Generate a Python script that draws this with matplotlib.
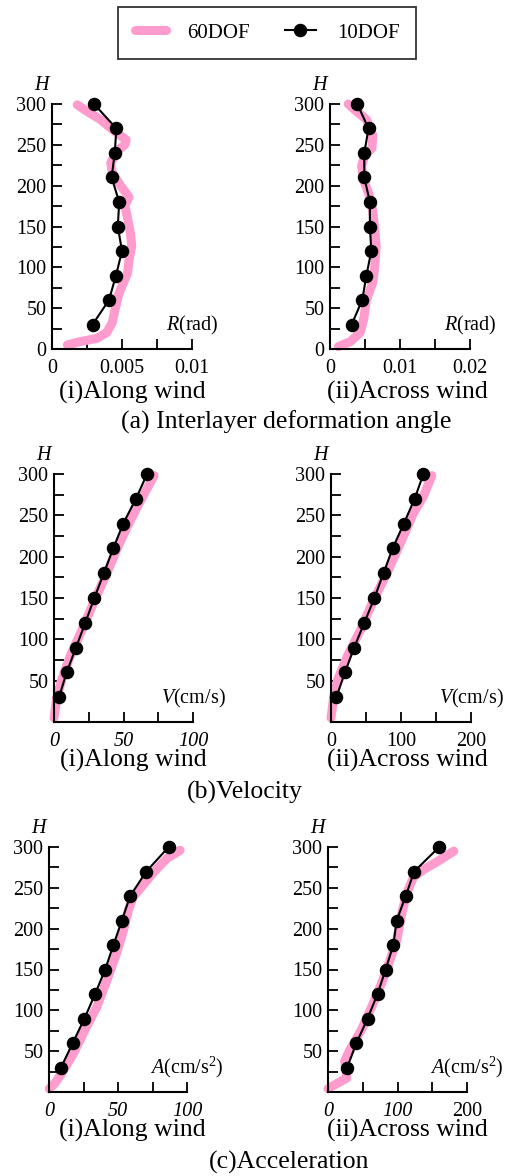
import matplotlib
matplotlib.use('Agg')
import matplotlib.pyplot as plt
from matplotlib.ticker import FixedLocator, NullFormatter
from matplotlib.lines import Line2D

plt.rcParams['font.family'] = ['Liberation Serif', 'DejaVu Serif']
plt.rcParams['mathtext.fontset'] = 'custom'
plt.rcParams['mathtext.rm'] = 'Liberation Serif'
plt.rcParams['mathtext.it'] = 'Liberation Serif:italic'

PINK = '#ff9ccd'

# 10DOF model (floor heights)
h10 = [30, 60, 90, 120, 150, 180, 210, 240, 270, 300]
r_along_10 = [0.0029, 0.00407, 0.00457, 0.0050, 0.0047, 0.0048, 0.00426, 0.00448, 0.0046, 0.0030]
r_across_10 = [0.0031, 0.0046, 0.0052, 0.0059, 0.0057, 0.0057, 0.0049, 0.0049, 0.0055, 0.0039]
v_along_10 = [3.6, 9.1, 15.8, 22.5, 29.0, 35.9, 42.6, 49.8, 58.9, 67.0]
v_across_10 = [7.6, 20.0, 33.0, 47.6, 62.0, 75.0, 88.0, 104.0, 119.5, 132.0]
a_along_10 = [8.7, 17.2, 25.7, 33.4, 40.7, 46.7, 52.8, 58.8, 70.5, 86.7]
a_across_10 = [27.5, 41.0, 56.9, 71.3, 82.9, 94.0, 98.8, 111.8, 124.0, 160.0]

# 60DOF model
h_r_along = [5, 9, 13, 20, 32, 48, 69, 81, 93, 109, 126, 142, 160, 176, 186,
             200, 216, 228, 242, 250, 256, 269, 281, 291, 299]
r_along_60 = [0.0011, 0.0020, 0.0032, 0.0039, 0.0043, 0.0045, 0.0048, 0.0051,
              0.0054, 0.0055, 0.0057, 0.0056, 0.0054, 0.0052, 0.0055, 0.0049,
              0.0043, 0.0042, 0.0046, 0.0052, 0.0053, 0.0043, 0.00345, 0.0025, 0.0018]
h_r_across = [3, 9, 20, 36, 60, 81, 101, 126, 154, 175, 191, 207, 224, 238,
              246, 262, 281, 291, 300]
r_across_60 = [0.0012, 0.0029, 0.0043, 0.0048, 0.0052, 0.0061, 0.0064, 0.0066,
               0.0063, 0.0060, 0.0055, 0.0048, 0.0045, 0.0050, 0.0060, 0.0061,
               0.0052, 0.0038, 0.0026]
h_v_along = [5, 29, 51, 79, 111, 148, 180, 212, 237, 257, 281, 298]
v_along_60 = [0.0, 2.0, 5.5, 11.5, 20.0, 29.4, 38.0, 46.0, 53.0, 59.0, 66.5, 72.0]
h_v_across = [5, 31, 51, 79, 111, 148, 180, 220, 253, 273, 298]
v_across_60 = [0.0, 4.0, 9.5, 23.0, 42.0, 61.0, 80.0, 101.0, 118.0, 132.0, 144.0]
h_a_along = [4, 11, 23, 47, 76, 104, 137, 170, 198, 223, 239, 249, 269, 286, 296]
a_along_60 = [0.2, 4.4, 9.2, 17.7, 26.0, 34.6, 42.0, 49.0, 54.0, 57.6, 61.0,
              66.0, 75.8, 85.5, 95.0]
h_a_across = [4, 10, 17, 24, 38, 51, 76, 104, 133, 161, 186, 218, 243, 263,
              272, 284, 295]
a_across_60 = [0.0, 12.0, 27.0, 26.0, 24.0, 31.0, 48.0, 62.7, 77.0, 89.0, 99.0,
               106.0, 113.0, 123.0, 137.0, 161.0, 181.0]

W, H = 507, 1176
fig = plt.figure(figsize=(W / 100, H / 100), dpi=100)


def make_ax(left, right, top, bottom):
    return fig.add_axes([left / W, 1 - bottom / H, (right - left) / W, (bottom - top) / H])


def panel(ax, x60, h60, x10, xmax, xmaj, xmin, xlabels, xname, y_zero, italic):
    ax.plot(x60, h60, color=PINK, lw=6.5, solid_capstyle='round',
            solid_joinstyle='round', clip_on=False, zorder=2)
    ax.plot(x10, h10, color='black', lw=1.5, marker='o', markersize=8.7,
            clip_on=False, zorder=3)
    ax.set_xlim(0, xmax)
    ax.set_ylim(0, 300)
    for s in ['top', 'right']:
        ax.spines[s].set_visible(False)
    for s in ['left', 'bottom']:
        ax.spines[s].set_linewidth(1.5)
    ax.xaxis.set_major_locator(FixedLocator(xmaj))
    ax.xaxis.set_minor_locator(FixedLocator(xmin))
    ax.set_xticklabels(xlabels)
    yt = [0, 50, 100, 150, 200, 250, 300] if y_zero else [50, 100, 150, 200, 250, 300]
    ax.yaxis.set_major_locator(FixedLocator(yt))
    ax.yaxis.set_minor_locator(FixedLocator([0, 25, 75, 125, 175, 225, 275]))
    ax.yaxis.set_minor_formatter(NullFormatter())
    ax.xaxis.set_minor_formatter(NullFormatter())
    ax.tick_params(which='both', direction='in', length=7.5, width=1.3, labelsize=14.5)
    ax.tick_params(axis='y', which='both', pad=4)
    ax.tick_params(axis='x', which='both', pad=7)
    for lab, it in zip(ax.get_xticklabels(), italic):
        if it:
            lab.set_fontstyle('italic')
    ax.text(0, 1.035, '$H$', transform=ax.transAxes, ha='right', va='bottom', fontsize=14.5)
    ax.text(1, 0.05, xname, transform=ax.transAxes, ha='center', va='bottom', fontsize=14.5)


ax1 = make_ax(52, 192, 104, 349)
panel(ax1, r_along_60, h_r_along, r_along_10, 0.01, [0, 0.005, 0.01],
      [0.0025, 0.0075], ['0', '0.005', '0.01'], '$R$(rad)', True, [0, 0, 0])
ax2 = make_ax(330, 470, 104, 349)
panel(ax2, r_across_60, h_r_across, r_across_10, 0.02, [0, 0.01, 0.02],
      [0.005, 0.015], ['0', '0.01', '0.02'], '$R$(rad)', True, [0, 0, 0])
ax3 = make_ax(54, 193, 474, 722)
panel(ax3, v_along_60, h_v_along, v_along_10, 100, [0, 50, 100],
      [25, 75], ['0', '50', '100'], '$V$(cm/s)', False, [1, 1, 1])
ax4 = make_ax(331, 471, 474, 722)
panel(ax4, v_across_60, h_v_across, v_across_10, 200, [0, 100, 200],
      [50, 150], ['0', '100', '200'], '$V$(cm/s)', False, [0, 0, 0])
ax5 = make_ax(49, 187, 847, 1092)
panel(ax5, a_along_60, h_a_along, a_along_10, 100, [0, 50, 100],
      [25, 75], ['0', '50', '100'], '$A$(cm/s$^2$)', False, [1, 1, 1])
ax6 = make_ax(328, 467, 847, 1092)
panel(ax6, a_across_60, h_a_across, a_across_10, 200, [0, 100, 200],
      [50, 150], ['0', '100', '200'], '$A$(cm/s$^2$)', False, [1, 1, 0])

# captions
caps = [(132, 392, '(i)Along wind'), (407, 392, '(ii)Across wind'),
        (286, 422, '(a) Interlayer deformation angle'),
        (133, 760, '(i)Along wind'), (407, 760, '(ii)Across wind'),
        (245, 792, '(b)Velocity'),
        (132, 1130, '(i)Along wind'), (407, 1130, '(ii)Across wind'),
        (289, 1162, '(c)Acceleration')]
for x, y, t in caps:
    fig.text(x / W, 1 - y / H, t, ha='center', va='center', fontsize=18.5)

handles = [Line2D([], [], color=PINK, lw=6.5, solid_capstyle='round'),
           Line2D([], [], color='black', lw=1.5, marker='o', markersize=8.7)]
leg = fig.legend(handles, ['60DOF', '10DOF'], loc='center',
                 bbox_to_anchor=(267 / W, 1 - 33 / H), ncol=2, fontsize=15,
                 frameon=True, fancybox=False, edgecolor='black',
                 handlelength=1.5, handletextpad=1.0, columnspacing=1.7,
                 borderpad=0.8)
leg.get_frame().set_linewidth(1.3)

fig.savefig('out.png', dpi=100)
